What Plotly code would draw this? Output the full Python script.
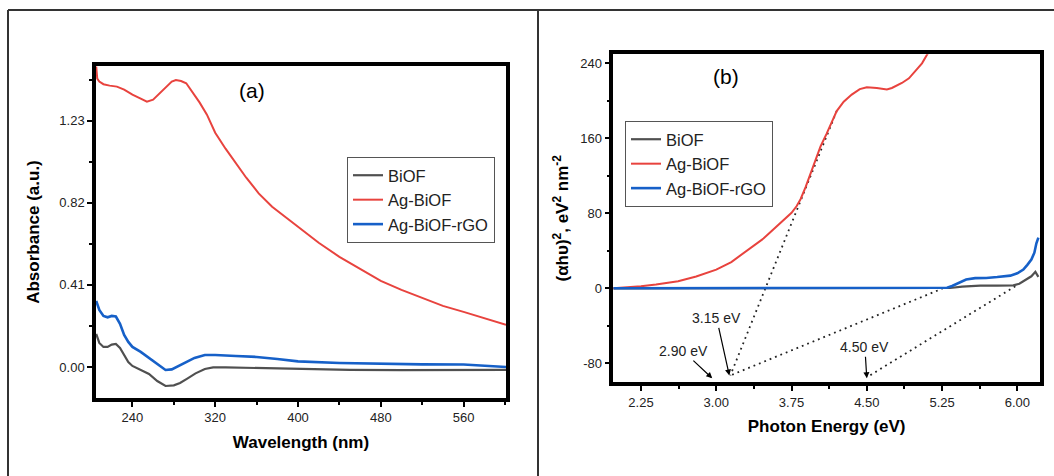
import plotly.graph_objects as go

# ---------------- Panel (a): UV-vis absorbance ----------------
wl_agbiof = [205, 206, 208, 212, 218, 225, 232, 240, 248, 254, 260, 266, 272, 278, 282, 287,
             292, 298, 305, 312, 320, 330, 340, 350, 362, 375, 390, 400, 420, 440, 460, 480,
             500, 520, 540, 560, 580, 601]
abs_agbiof = [1.50, 1.44, 1.425, 1.412, 1.405, 1.40, 1.385, 1.36, 1.34, 1.325, 1.335, 1.365, 1.40,
              1.425, 1.433, 1.428, 1.417, 1.375, 1.32, 1.26, 1.17, 1.09, 1.015, 0.945, 0.867, 0.80,
              0.74, 0.70, 0.62, 0.55, 0.49, 0.43, 0.385, 0.345, 0.305, 0.275, 0.245, 0.21]

wl_rgo = [205, 208, 212, 216, 220, 224, 228, 232, 236, 240, 248, 256, 264, 272, 278, 285, 292,
          300, 310, 320, 340, 360, 380, 400, 440, 480, 520, 560, 601]
abs_rgo = [0.33, 0.285, 0.255, 0.248, 0.255, 0.252, 0.215, 0.16, 0.125, 0.10, 0.075, 0.045, 0.015,
           -0.015, -0.012, 0.005, 0.025, 0.045, 0.06, 0.06, 0.055, 0.05, 0.04, 0.028, 0.02, 0.015,
           0.013, 0.012, 0.0]

wl_biof = [205, 208, 212, 216, 220, 224, 228, 232, 236, 240, 248, 256, 264, 272, 280, 286, 293,
           301, 310, 318, 330, 360, 400, 450, 500, 560, 601]
abs_biof = [0.165, 0.12, 0.10, 0.10, 0.112, 0.115, 0.095, 0.06, 0.025, 0.005, -0.015, -0.035, -0.07,
            -0.095, -0.092, -0.08, -0.058, -0.032, -0.01, -0.002, -0.002, -0.006, -0.012, -0.015,
            -0.016, -0.015, -0.015]

ticks_a_x = [240, 320, 400, 480, 560]
ticks_a_y = [0.0, 0.41, 0.82, 1.23]
ticklabels_a_y = ["0.00", "0.41", "0.82", "1.23"]

# ---------------- Panel (b): Tauc plot ----------------
e_agbiof = [1.974, 2.1, 2.25, 2.4, 2.62, 2.8, 3.0, 3.15, 3.25, 3.37, 3.47, 3.56, 3.64, 3.70,
            3.75, 3.80, 3.84, 3.89, 3.94, 4.04, 4.10, 4.15, 4.20, 4.27, 4.35, 4.43, 4.5, 4.6,
            4.7, 4.75, 4.85, 4.92, 4.98, 5.05, 5.1, 5.15]
t_agbiof = [0, 0.7, 2.1, 4.0, 7.5, 12.5, 19.9, 28, 36, 44.8, 53, 62, 69.5, 75,
            80.5, 87.5, 95, 108, 123, 151.5, 165, 177, 189, 199, 206.6, 212.5, 214.5, 213.7,
            212, 213.7, 219, 224, 231.5, 240, 249, 258]

e_rgo = [1.974, 5.0, 5.2, 5.3, 5.35, 5.42, 5.49, 5.58, 5.69, 5.8, 5.93, 6.0, 6.06, 6.1, 6.14,
         6.17, 6.19, 6.21]
t_rgo = [0, 0, 0.2, 0.6, 2.5, 6, 9.3, 10.8, 11, 12, 13.5, 16, 20, 25, 30.6, 38, 48, 54]

e_biof = [1.974, 5.25, 5.33, 5.45, 5.63, 5.8, 5.96, 6.02, 6.06, 6.1, 6.14, 6.18, 6.21]
t_biof = [0, 0, 0.3, 1.8, 2.8, 2.9, 3.2, 4.8, 7.5, 10, 12.8, 17.5, 12.2]

# tangent extrapolation lines (start on curve, end at band-gap marker)
tan_red_e = [4.2, 3.14]
tan_red_t = [189, -93]
tan_rgo_e = [5.26, 3.14]
tan_rgo_t = [0, -93]
tan_biof_e = [5.98, 4.50]
tan_biof_t = [2.1, -95]

gap_labels = ["3.15 eV", "2.90 eV", "4.50 eV"]
gap_label_e = [3.004, 2.671, 4.481]
gap_label_t = [-32, -67, -63]
gap_point_e = [3.13, 2.96, 4.50]
gap_point_t = [-93, -96, -96]

ticks_b_x = [2.25, 3.00, 3.75, 4.50, 5.25, 6.00]
ticklabels_b_x = ["2.25", "3.00", "3.75", "4.50", "5.25", "6.00"]
ticks_b_y = [-80, 0, 80, 160, 240]
ticklabels_b_y = ["-80", "0", "80", "160", "240"]

names = ["BiOF", "Ag-BiOF", "Ag-BiOF-rGO"]
colors = ["#505050", "#E8433E", "#1660C8"]
widths = [2.2, 2.0, 2.6]

FONT = "Liberation Sans, Arial, sans-serif"
W, H = 1054, 476

fig = go.Figure()

a_data = [(wl_biof, abs_biof), (wl_agbiof, abs_agbiof), (wl_rgo, abs_rgo)]
for (xs, ys), n, c, w in zip(a_data, names, colors, widths):
    fig.add_trace(go.Scatter(x=xs, y=ys, mode="lines", name=n, line=dict(color=c, width=w),
                             xaxis="x", yaxis="y", legend="legend"))

for xs, ys in [(tan_red_e, tan_red_t), (tan_rgo_e, tan_rgo_t), (tan_biof_e, tan_biof_t)]:
    fig.add_trace(go.Scatter(x=xs, y=ys, mode="lines", showlegend=False, hoverinfo="skip",
                             line=dict(color="#222", width=1.8, dash="1.8px,4px"),
                             xaxis="x2", yaxis="y2"))

b_data = [(e_biof, t_biof), (e_agbiof, t_agbiof), (e_rgo, t_rgo)]
for (xs, ys), n, c, w in zip(b_data, names, colors, widths):
    fig.add_trace(go.Scatter(x=xs, y=ys, mode="lines", name=n, line=dict(color=c, width=w),
                             xaxis="x2", yaxis="y2", legend="legend2"))


def px_x(p):
    return p / W


def px_y(p):
    return 1 - p / H


axis_common = dict(
    showline=True, linewidth=3.5, linecolor="black", mirror=True,
    ticks="outside", ticklen=5, tickwidth=2, tickcolor="black",
    showgrid=False, zeroline=False, automargin=False,
    tickfont=dict(family=FONT, size=13, color="#222"),
)
title_font = dict(family=FONT, size=17, color="black", weight="bold")
minor_common = dict(ticks="outside", ticklen=3, tickwidth=2, tickcolor="black")
legend_font = dict(family=FONT, size=16.5, color="#222")

fig.update_layout(
    width=W, height=H, margin=dict(l=0, r=0, t=0, b=0),
    paper_bgcolor="white", plot_bgcolor="white",
    font=dict(family=FONT),
    xaxis=dict(domain=[px_x(96), px_x(506)], range=[204.8, 601], anchor="y",
               tickvals=ticks_a_x, minor=dict(dtick=40, tick0=0, **minor_common),
               title=dict(text="Wavelength (nm)", font=title_font, standoff=13), **axis_common),
    yaxis=dict(domain=[px_y(398), px_y(66)], range=[-0.155, 1.503], anchor="x",
               tickvals=ticks_a_y, ticktext=ticklabels_a_y,
               minor=dict(dtick=0.205, tick0=0, **minor_common),
               title=dict(text="Absorbance (a.u.)", font=title_font, standoff=16), **axis_common),
    xaxis2=dict(domain=[px_x(613.3), px_x(1040)], range=[1.974, 6.226], anchor="y2",
                tickvals=ticks_b_x, ticktext=ticklabels_b_x,
                minor=dict(dtick=0.375, tick0=0, **minor_common),
                title=dict(text="Photon Energy (eV)", font=title_font, standoff=12), **axis_common),
    yaxis2=dict(domain=[px_y(382.3), px_y(54.3)], range=[-100.3, 249.6], anchor="x2",
                tickvals=ticks_b_y, ticktext=ticklabels_b_y,
                minor=dict(dtick=40, tick0=0, **minor_common),
                title=dict(text="(αhυ)<sup>2</sup>, eV<sup>2</sup> nm<sup>-2</sup>", font=title_font, standoff=8),
                **axis_common),
    legend=dict(x=px_x(347), y=px_y(157), xanchor="left", yanchor="top",
                bgcolor="white", bordercolor="#555", borderwidth=1,
                font=legend_font, tracegroupgap=0),
    legend2=dict(x=px_x(625), y=px_y(121), xanchor="left", yanchor="top",
                 bgcolor="white", bordercolor="#555", borderwidth=1,
                 font=legend_font, tracegroupgap=0),
    showlegend=True,
)

# panel labels
fig.add_annotation(text="(a)", x=px_x(252), y=px_y(90), xref="paper", yref="paper",
                   xanchor="center", yanchor="middle",
                   showarrow=False, font=dict(family=FONT, size=21, color="black"))
fig.add_annotation(text="(b)", x=px_x(726), y=px_y(77), xref="paper", yref="paper",
                   xanchor="center", yanchor="middle",
                   showarrow=False, font=dict(family=FONT, size=21, color="black"))

# band-gap labels with arrows
for lab, lx, ly, ex, ey in zip(gap_labels, gap_label_e, gap_label_t, gap_point_e, gap_point_t):
    fig.add_annotation(text=lab, x=ex, y=ey, ax=lx, ay=ly, xref="x2", yref="y2",
                       axref="x2", ayref="y2", showarrow=True, arrowhead=2, arrowsize=1,
                       arrowwidth=1.2, arrowcolor="black", standoff=0,
                       font=dict(family=FONT, size=14, color="#222"))

# outer frame lines
frame = dict(type="line", xref="paper", yref="paper", line=dict(color="#333", width=2))
fig.add_shape(x0=px_x(8), x1=1, y0=px_y(10), y1=px_y(10), **frame)
fig.add_shape(x0=px_x(8), x1=px_x(8), y0=0, y1=px_y(10), **frame)
fig.add_shape(x0=px_x(538), x1=px_x(538), y0=0, y1=px_y(10), **frame)

fig.write_html("out.html")
